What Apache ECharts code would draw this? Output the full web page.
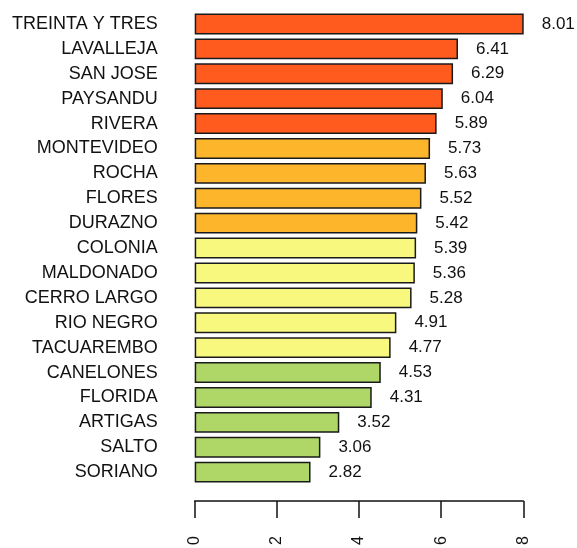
<!DOCTYPE html>
<html>
<head>
  <meta charset="UTF-8">
  <script src="https://cdn.jsdelivr.net/npm/echarts@6/dist/echarts.min.js"></script>
  <style>
    html, body { margin: 0; padding: 0; background: #fff; }
    #main { width: 577px; height: 548px; }
  </style>
</head>
<body>
  <div id="main"></div>
  <script>
    // departamentos, de arriba hacia abajo
    var departamentos = ['TREINTA Y TRES', 'LAVALLEJA', 'SAN JOSE', 'PAYSANDU', 'RIVERA',
      'MONTEVIDEO', 'ROCHA', 'FLORES', 'DURAZNO', 'COLONIA', 'MALDONADO', 'CERRO LARGO',
      'RIO NEGRO', 'TACUAREMBO', 'CANELONES', 'FLORIDA', 'ARTIGAS', 'SALTO', 'SORIANO'];
    var valores = [8.01, 6.41, 6.29, 6.04, 5.89, 5.73, 5.63, 5.52, 5.42, 5.39, 5.36, 5.28,
      4.91, 4.77, 4.53, 4.31, 3.52, 3.06, 2.82];
    // grupo de color de cada barra
    var grupos = [0, 0, 0, 0, 0, 1, 1, 1, 1, 2, 2, 2, 2, 2, 3, 3, 3, 3, 3];
    var colores = ['#FF5B1F', '#FDB52C', '#F8F87F', '#AFD768'];
    var ticks = [0, 2, 4, 6, 8];

    var chart = echarts.init(document.getElementById('main'));
    var fuente = 'Liberation Sans';

    chart.setOption({
      animation: false,
      grid: { left: 194.7, right: 53.7, top: 11.5, bottom: 61.5 },
      xAxis: {
        type: 'value',
        min: ticks[0],
        max: ticks[ticks.length - 1],
        interval: 2,
        offset: 16.5,
        axisLine: { show: true, lineStyle: { color: '#111', width: 1.5 } },
        axisTick: { show: true, length: 17, lineStyle: { color: '#111', width: 1.5 } },
        axisLabel: { rotate: 90, margin: 35, color: '#111', fontSize: 16, fontFamily: fuente },
        splitLine: { show: false }
      },
      yAxis: {
        type: 'category',
        inverse: true,
        data: departamentos,
        axisLine: { show: false },
        axisTick: { show: false },
        axisLabel: { margin: 37, color: '#111', fontSize: 18, fontFamily: fuente }
      },
      series: [{
        type: 'bar',
        barCategoryGap: '16%',
        data: valores.map(function (v, i) {
          return { value: v, itemStyle: { color: colores[grupos[i]] } };
        }),
        itemStyle: { borderColor: '#1a1a1a', borderWidth: 1.5 },
        label: {
          show: true,
          position: 'right',
          distance: 18,
          color: '#111',
          fontSize: 17,
          fontFamily: fuente,
          formatter: function (p) { return p.value.toFixed(2); }
        }
      }]
    });
  </script>
</body>
</html>
